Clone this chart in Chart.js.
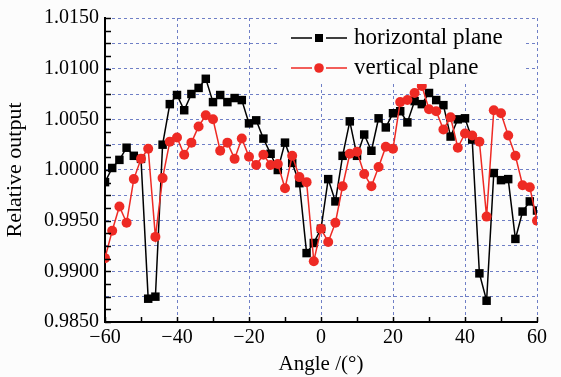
<!DOCTYPE html>
<html>
<head>
<meta charset="utf-8">
<script src="https://cdn.jsdelivr.net/npm/chart.js@4"></script>
<style>
  html, body { margin: 0; padding: 0; background: #fcfcfc; }
  #wrap { width: 561px; height: 377px; }
</style>
</head>
<body>
<div id="wrap"><canvas id="chart" width="561" height="377"></canvas></div>
<script>
// Angles (deg), every 2 degrees
const angles = [-60, -58, -56, -54, -52, -50, -48, -46, -44, -42, -40, -38, -36, -34, -32,
  -30, -28, -26, -24, -22, -20, -18, -16, -14, -12, -10, -8, -6, -4, -2, 0,
  2, 4, 6, 8, 10, 12, 14, 16, 18, 20, 22, 24, 26, 28, 30,
  32, 34, 36, 38, 40, 42, 44, 46, 48, 50, 52, 54, 56, 58, 60];

// Relative output, horizontal plane
const horizontal = [0.9988, 1.0002, 1.0010, 1.0022, 1.0014, 1.0011, 0.9873, 0.9875, 1.0025, 1.0065, 1.0074, 1.0059, 1.0075, 1.0081, 1.0090,
  1.0067, 1.0074, 1.0067, 1.0071, 1.0069, 1.0046, 1.0049, 1.0031, 1.0016, 1.0000, 1.0027, 1.0007, 0.9987, 0.9918, 0.9928, 0.9942,
  0.9991, 0.9969, 1.0014, 1.0048, 1.0014, 1.0035, 1.0019, 1.0051, 1.0042, 1.0056, 1.0058, 1.0047, 1.0068, 1.0065, 1.0076,
  1.0069, 1.0064, 1.0033, 1.0050, 1.0051, 1.0030, 0.9898, 0.9871, 0.9997, 0.9990, 0.9991, 0.9932, 0.9959, 0.9969, 0.9960];

// Relative output, vertical plane
const vertical = [0.9913, 0.9940, 0.9964, 0.9948, 0.9991, 1.0011, 1.0021, 0.9934, 0.9992, 1.0028, 1.0032, 1.0015, 1.0027, 1.0043, 1.0054,
  1.0050, 1.0019, 1.0027, 1.0011, 1.0031, 1.0013, 1.0005, 1.0015, 1.0005, 1.0006, 0.9982, 1.0014, 0.9993, 0.9988, 0.9910, 0.9942,
  0.9929, 0.9948, 0.9984, 1.0016, 1.0018, 0.9996, 0.9984, 1.0003, 1.0023, 1.0021, 1.0067, 1.0069, 1.0076, 1.0083, 1.0060,
  1.0058, 1.0040, 1.0052, 1.0022, 1.0036, 1.0034, 1.0028, 0.9954, 1.0059, 1.0056, 1.0034, 1.0014, 0.9985, 0.9983, 0.9950];

const seriesNames = ['horizontal plane', 'vertical plane'];
const xRange = [-60, 60];
const yRange = [0.985, 1.015];

const SERIF = '"Liberation Serif", "Times New Roman", serif';
const GRID_BLUE = '#6f7fc6';
const RED = '#ee2a24';

function isMultiple(v, step) {
    const q = v / step;
    return Math.abs(q - Math.round(q)) < 1e-6;
}

// Small inward ticks on the left and bottom axes
const innerTicks = {
    id: 'innerTicks',
    afterDatasetsDraw(chart) {
        const { ctx, chartArea, scales } = chart;
        ctx.save();
        ctx.strokeStyle = '#000';
        ctx.lineWidth = 1.5;
        ctx.beginPath();
        for (let v = xRange[0]; v <= xRange[1]; v += 10) {
            const px = Math.round(scales.x.getPixelForValue(v)) + 0.5;
            ctx.moveTo(px, chartArea.bottom);
            ctx.lineTo(px, chartArea.bottom - 5);
        }
        for (let i = 0; i <= 24; i++) {
            const v = yRange[0] + i * 0.00125;
            const py = Math.round(scales.y.getPixelForValue(v)) + 0.5;
            ctx.moveTo(chartArea.left, py);
            ctx.lineTo(chartArea.left + 6, py);
        }
        ctx.stroke();
        ctx.restore();
    }
};

// Legend drawn as line - marker - line, like the original figure
const lineLegend = {
    id: 'lineLegend',
    afterDatasetsDraw(chart) {
        const ctx = chart.ctx;
        ctx.save();
        ctx.fillStyle = '#fcfcfc';
        ctx.fillRect(277, 19, 247, 65);
        const rows = [
            { y: 38, color: '#000', marker: 'rect', label: seriesNames[0] },
            { y: 68, color: RED, marker: 'circle', label: seriesNames[1] }
        ];
        rows.forEach(r => {
            ctx.strokeStyle = r.color;
            ctx.lineWidth = 1.5;
            ctx.beginPath();
            ctx.moveTo(291, r.y);
            ctx.lineTo(312, r.y);
            ctx.moveTo(326, r.y);
            ctx.lineTo(347, r.y);
            ctx.stroke();
            ctx.fillStyle = r.color;
            if (r.marker === 'rect') {
                ctx.fillRect(315, r.y - 4, 8, 8);
            } else {
                ctx.beginPath();
                ctx.arc(319, r.y, 4.8, 0, Math.PI * 2);
                ctx.fill();
            }
            ctx.fillStyle = '#000';
            ctx.font = '23px ' + SERIF;
            ctx.textBaseline = 'middle';
            ctx.fillText(r.label, 354, r.y);
        });
        ctx.restore();
    }
};

const ctx = document.getElementById('chart').getContext('2d');
const chart = new Chart(ctx, {
    type: 'line',
    data: {
        labels: angles,
        datasets: [
            {
                label: seriesNames[0],
                data: angles.map((a, i) => ({ x: a, y: horizontal[i] })),
                borderColor: '#000',
                backgroundColor: '#000',
                borderWidth: 1.5,
                pointStyle: 'rect',
                pointRadius: 6,
                pointBorderWidth: 0,
                order: 2,
                tension: 0
            },
            {
                label: seriesNames[1],
                data: angles.map((a, i) => ({ x: a, y: vertical[i] })),
                borderColor: RED,
                backgroundColor: RED,
                borderWidth: 1.5,
                pointStyle: 'circle',
                pointRadius: 5,
                pointBorderWidth: 0,
                order: 1,
                tension: 0
            }
        ]
    },
    options: {
        responsive: false,
        animation: false,
        layout: { padding: { top: 17, right: 24, left: 0, bottom: 0 } },
        plugins: {
            legend: { display: false },
            tooltip: { enabled: false }
        },
        scales: {
            x: {
                type: 'linear',
                min: xRange[0],
                max: xRange[1],
                afterFit: (scale) => { scale.height = 55; },
                ticks: {
                    stepSize: 20,
                    autoSkip: false,
                    color: '#000',
                    padding: 4,
                    maxRotation: 0,
                    font: { family: SERIF, size: 20 },
                    callback: (v) => v < 0 ? '\u2212' + Math.abs(v) : String(v)
                },
                grid: {
                    color: GRID_BLUE,
                    lineWidth: 1,
                    drawTicks: false
                },
                border: { color: '#000', width: 2, dash: [3, 3] },
                title: {
                    display: true,
                    text: 'Angle /(\u00b0)',
                    color: '#000',
                    font: { family: SERIF, size: 21 },
                    padding: { top: 0, bottom: 0 }
                }
            },
            y: {
                type: 'linear',
                min: yRange[0],
                max: yRange[1],
                afterFit: (scale) => { scale.width = 105; },
                ticks: {
                    stepSize: 0.0025,
                    autoSkip: false,
                    color: '#000',
                    padding: 6,
                    font: { family: SERIF, size: 20 },
                    callback: (v) => isMultiple(v, 0.005) ? v.toFixed(4) : ''
                },
                grid: {
                    color: GRID_BLUE,
                    lineWidth: 1,
                    drawTicks: false
                },
                border: { color: '#000', width: 2, dash: [3, 3] },
                title: {
                    display: true,
                    text: 'Relative output',
                    color: '#000',
                    font: { family: SERIF, size: 22 },
                    padding: { top: 2, bottom: 4 }
                }
            }
        }
    },
    plugins: [innerTicks, lineLegend]
});
</script>
</body>
</html>
